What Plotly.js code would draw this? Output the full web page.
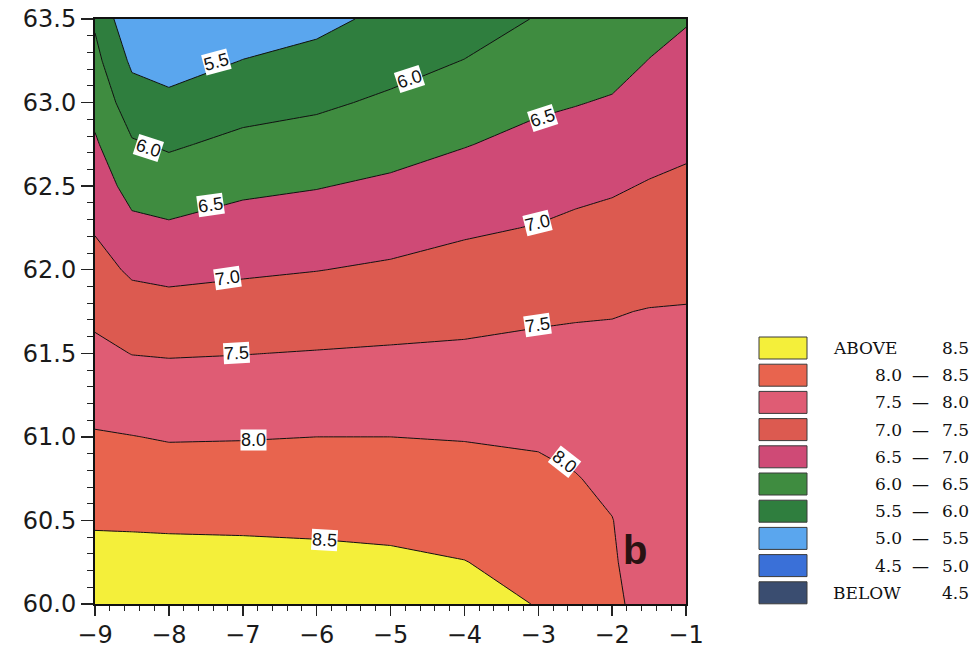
<!DOCTYPE html>
<html><head><meta charset="utf-8">
<script src="https://cdn.plot.ly/plotly-3.0.1.min.js"></script>
<style>body{margin:0;background:#fff}</style>
</head><body><div id="chart" style="width:974px;height:649px"></div>
<script>
// ---- data ----
const xVals = [-9, -8.5, -8, -7, -6, -5, -4, -3, -2.5, -2, -1.5, -1];
const yVals = [60, 60.25, 60.5, 60.75, 61, 61.25, 61.5, 61.75, 62, 62.25, 62.5, 62.75, 63, 63.25, 63.5];
// values, one column (bottom -> top) per x position
const colM9   = [8.86,8.66,8.45,8.25,8.04,7.82,7.61,7.39,7.17,6.96,6.76,6.56,6.35,6.14,5.93];
const colM8_5 = [8.87,8.66,8.44,8.22,8.01,7.75,7.49,7.21,6.93,6.62,6.33,6.05,5.73,5.41,5.09];
const colM8   = [8.88,8.65,8.43,8.20,7.97,7.72,7.47,7.17,6.88,6.56,6.25,5.94,5.62,5.29,5.03];
const colM7   = [8.86,8.64,8.42,8.20,7.98,7.74,7.49,7.21,6.94,6.68,6.41,6.12,5.82,5.51,5.21];
const colM6   = [8.82,8.61,8.41,8.20,8.00,7.76,7.52,7.26,6.99,6.73,6.48,6.20,5.92,5.64,5.37];
const colM5   = [8.77,8.58,8.38,8.19,8.00,7.77,7.55,7.30,7.06,6.82,6.58,6.33,6.08,5.83,5.62];
const colM4   = [8.68,8.51,8.33,8.16,7.98,7.78,7.57,7.36,7.15,6.94,6.71,6.48,6.25,6.01,5.77];
const colM3   = [8.48,8.35,8.22,8.09,7.95,7.78,7.61,7.43,7.23,7.02,6.83,6.63,6.43,6.23,6.03];
const colM2_5 = [8.28,8.19,8.10,8.02,7.89,7.75,7.61,7.46,7.27,7.09,6.89,6.69,6.48,6.28,6.07];
const colM2   = [8.08,8.04,8.01,7.91,7.80,7.70,7.59,7.48,7.31,7.13,6.95,6.75,6.54,6.34,6.13];
const colM1_5 = [7.85,7.80,7.75,7.70,7.65,7.60,7.55,7.515,7.35,7.19,7.03,6.85,6.68,6.51,6.33];
const colM1   = [7.75,7.72,7.68,7.65,7.61,7.58,7.55,7.525,7.38,7.23,7.08,6.93,6.78,6.62,6.47];

const levelStart = 4.5, levelEnd = 8.5, levelStep = 0.5;
// legend rows, top to bottom
const legendLow  = ['ABOVE', '8.0', '7.5', '7.0', '6.5', '6.0', '5.5', '5.0', '4.5', 'BELOW'];
const legendHigh = ['8.5', '8.5', '8.0', '7.5', '7.0', '6.5', '6.0', '5.5', '5.0', '4.5'];
const bandColors = ['#f4ef3a', '#e8644e', '#df5c74', '#dc5a50', '#cf4a76',
                    '#3f8c40', '#2f7e3e', '#5aa6ee', '#3a70d8', '#3a4d70'];
// contour labels
const labelLevels = [5.5, 6.0, 6.0, 6.5, 6.5, 7.0, 7.0, 7.5, 7.5, 8.0, 8.0, 8.5];
const labelX = [-7.36, -8.28, -4.74, -7.44, -2.94, -7.21, -3.01, -7.08, -3.01, -6.86, -2.64, -5.89];
const labelY = [63.24, 62.73, 63.14, 62.39, 62.91, 61.95, 62.28, 61.50, 61.67, 60.98, 60.85, 60.38];
const labelAngle = [-15, 18, -18, -8, -18, -8, -14, -3, -8, 0, 38, 3];

// ---- build ----
const cols = [colM9, colM8_5, colM8, colM7, colM6, colM5, colM4, colM3, colM2_5, colM2, colM1_5, colM1];
const z = yVals.map((_, r) => cols.map(c => c[r]));

const nBands = bandColors.length;
const colorscale = bandColors.slice().reverse().map((c, i) => [i / (nBands - 1), c]);

const W = 974, H = 649;
const M = {l: 95, r: 288, t: 19, b: 45};
const pw = W - M.l - M.r, ph = H - M.t - M.b;
const px = p => (p - M.l) / pw;
const py = q => (H - M.b - q) / ph;

const shapes = [];
const annotations = [];
const serif = {family: 'DejaVu Serif', size: 17, color: '#111'};
legendLow.forEach((lo, i) => {
  const top = 337 + i * 27.2;
  shapes.push({type: 'rect', xref: 'paper', yref: 'paper',
    x0: px(759), x1: px(807), y0: py(top + 22), y1: py(top),
    fillcolor: bandColors[i], line: {color: '#3a3a3a', width: 1}});
  const yc = py(top + 11);
  if (i === 0 || i === legendLow.length - 1) {
    annotations.push({xref: 'paper', yref: 'paper', x: px(831), y: yc, xanchor: 'left', yanchor: 'middle',
      text: lo, showarrow: false, font: serif});
  } else {
    annotations.push({xref: 'paper', yref: 'paper', x: px(904), y: yc, xanchor: 'right', yanchor: 'middle',
      text: lo, showarrow: false, font: serif});
    annotations.push({xref: 'paper', yref: 'paper', x: px(920), y: yc, xanchor: 'center', yanchor: 'middle',
      text: '\u2014', showarrow: false, font: serif});
  }
  annotations.push({xref: 'paper', yref: 'paper', x: px(971), y: yc, xanchor: 'right', yanchor: 'middle',
    text: legendHigh[i], showarrow: false, font: serif});
});

labelLevels.forEach((lv, i) => {
  annotations.push({x: labelX[i], y: labelY[i], xref: 'x', yref: 'y', text: lv.toFixed(1),
    xanchor: 'center', yanchor: 'middle',
    showarrow: false, textangle: labelAngle[i], bgcolor: '#ffffff', borderpad: 0,
    font: {family: 'Liberation Sans', size: 18, color: '#111'}});
});

annotations.push({xref: 'paper', yref: 'paper', x: px(635), y: py(550), xanchor: 'center', yanchor: 'middle',
  text: '<b>b</b>', showarrow: false, font: {family: 'Liberation Sans', size: 40, color: '#2a1212'}});

const trace = {
  type: 'contour', x: xVals, y: yVals, z: z,
  autocontour: false,
  contours: {start: levelStart, end: levelEnd, size: levelStep, coloring: 'fill', showlines: true},
  line: {color: '#111', width: 1, smoothing: 0},
  colorscale: colorscale, showscale: false, hoverinfo: 'skip'
};

const tickFont = {family: 'DejaVu Sans', size: 24, color: '#1a1a1a'};
const layout = {
  width: W, height: H, margin: M,
  paper_bgcolor: '#ffffff', plot_bgcolor: '#ffffff',
  showlegend: false,
  xaxis: {range: [-9, -1], dtick: 1, tick0: -9, ticks: 'outside', ticklen: 10, tickwidth: 1.5, tickcolor: '#222',
    showline: true, linewidth: 2, linecolor: '#111', mirror: true, showgrid: false, zeroline: false,
    minor: {dtick: 0.2, ticks: 'outside', ticklen: 5, tickwidth: 1, tickcolor: '#222', showgrid: false},
    tickfont: tickFont, ticklabelstandoff: -2},
  yaxis: {range: [60, 63.5], dtick: 0.5, tick0: 60, tickformat: '.1f', ticks: 'outside', ticklen: 12, tickwidth: 1.5, tickcolor: '#222',
    showline: true, linewidth: 2, linecolor: '#111', mirror: true, showgrid: false, zeroline: false,
    minor: {dtick: 0.1, ticks: 'outside', ticklen: 6, tickwidth: 1, tickcolor: '#222', showgrid: false},
    tickfont: tickFont},
  shapes: shapes, annotations: annotations
};

Plotly.newPlot('chart', [trace], layout, {displayModeBar: false, staticPlot: true});
</script></body></html>
